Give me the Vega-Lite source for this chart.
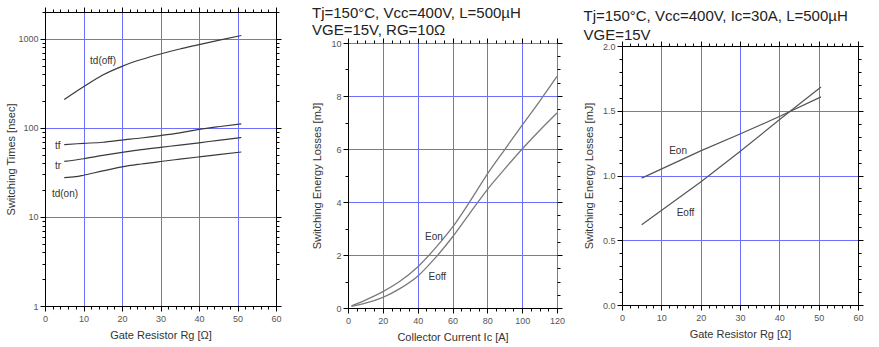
{
  "$schema": "https://vega.github.io/schema/vega-lite/v6.json",
  "background": "white",
  "padding": {"left": 5, "top": 5, "right": 5, "bottom": 5},
  "spacing": 29,
  "datasets": {
    "times": [
      {"Rg": 5, "t": 208, "s": "td(off)"}, {"Rg": 10, "t": 289, "s": "td(off)"}, {"Rg": 15, "t": 392, "s": "td(off)"}, {"Rg": 20, "t": 491, "s": "td(off)"}, {"Rg": 25, "t": 585, "s": "td(off)"}, {"Rg": 30, "t": 676, "s": "td(off)"}, {"Rg": 35, "t": 768, "s": "td(off)"}, {"Rg": 40, "t": 860, "s": "td(off)"}, {"Rg": 45, "t": 960, "s": "td(off)"}, {"Rg": 51, "t": 1090, "s": "td(off)"},
      {"Rg": 5, "t": 65, "s": "tf"}, {"Rg": 10, "t": 67, "s": "tf"}, {"Rg": 15, "t": 69, "s": "tf"}, {"Rg": 20, "t": 73, "s": "tf"}, {"Rg": 25, "t": 77, "s": "tf"}, {"Rg": 30, "t": 82, "s": "tf"}, {"Rg": 35, "t": 88, "s": "tf"}, {"Rg": 40, "t": 96, "s": "tf"}, {"Rg": 45, "t": 103, "s": "tf"}, {"Rg": 51, "t": 111, "s": "tf"},
      {"Rg": 5, "t": 42, "s": "tr"}, {"Rg": 10, "t": 45, "s": "tr"}, {"Rg": 15, "t": 49, "s": "tr"}, {"Rg": 20, "t": 53, "s": "tr"}, {"Rg": 25, "t": 57, "s": "tr"}, {"Rg": 30, "t": 60.5, "s": "tr"}, {"Rg": 35, "t": 64, "s": "tr"}, {"Rg": 40, "t": 68, "s": "tr"}, {"Rg": 45, "t": 72.5, "s": "tr"}, {"Rg": 51, "t": 78, "s": "tr"},
      {"Rg": 5, "t": 27.7, "s": "td(on)"}, {"Rg": 8, "t": 28.3, "s": "td(on)"}, {"Rg": 10, "t": 29.4, "s": "td(on)"}, {"Rg": 15, "t": 32.9, "s": "td(on)"}, {"Rg": 20, "t": 36.5, "s": "td(on)"}, {"Rg": 25, "t": 39.3, "s": "td(on)"}, {"Rg": 30, "t": 41.9, "s": "td(on)"}, {"Rg": 35, "t": 44.5, "s": "td(on)"}, {"Rg": 40, "t": 47.2, "s": "td(on)"}, {"Rg": 45, "t": 50, "s": "td(on)"}, {"Rg": 51, "t": 53.6, "s": "td(on)"}
    ],
    "timesLabels": [
      {"Rg": 11.7, "t": 559, "label": "td(off)"},
      {"Rg": 2.6, "t": 62.6, "label": "tf"},
      {"Rg": 2.6, "t": 37.4, "label": "tr"},
      {"Rg": 1.8, "t": 18, "label": "td(on)"}
    ],
    "energyIc": [
      {"Ic": 2, "E": 0.08, "s": "Eon"}, {"Ic": 10, "E": 0.3, "s": "Eon"}, {"Ic": 20, "E": 0.62, "s": "Eon"}, {"Ic": 30, "E": 1.02, "s": "Eon"}, {"Ic": 40, "E": 1.55, "s": "Eon"}, {"Ic": 50, "E": 2.25, "s": "Eon"}, {"Ic": 60, "E": 3.05, "s": "Eon"}, {"Ic": 70, "E": 4.02, "s": "Eon"}, {"Ic": 80, "E": 5.05, "s": "Eon"}, {"Ic": 90, "E": 5.98, "s": "Eon"}, {"Ic": 100, "E": 6.9, "s": "Eon"}, {"Ic": 110, "E": 7.8, "s": "Eon"}, {"Ic": 120, "E": 8.74, "s": "Eon"},
      {"Ic": 2, "E": 0.06, "s": "Eoff"}, {"Ic": 10, "E": 0.18, "s": "Eoff"}, {"Ic": 20, "E": 0.4, "s": "Eoff"}, {"Ic": 30, "E": 0.74, "s": "Eoff"}, {"Ic": 40, "E": 1.2, "s": "Eoff"}, {"Ic": 50, "E": 1.88, "s": "Eoff"}, {"Ic": 60, "E": 2.68, "s": "Eoff"}, {"Ic": 70, "E": 3.58, "s": "Eoff"}, {"Ic": 80, "E": 4.47, "s": "Eoff"}, {"Ic": 90, "E": 5.25, "s": "Eoff"}, {"Ic": 100, "E": 6.0, "s": "Eoff"}, {"Ic": 110, "E": 6.7, "s": "Eoff"}, {"Ic": 120, "E": 7.36, "s": "Eoff"}
    ],
    "energyIcLabels": [
      {"Ic": 44.2, "E": 2.69, "label": "Eon"},
      {"Ic": 46.2, "E": 1.17, "label": "Eoff"}
    ],
    "energyRg": [
      {"Rg": 5, "E": 0.98, "s": "Eon"}, {"Rg": 20, "E": 1.19, "s": "Eon"}, {"Rg": 30, "E": 1.32, "s": "Eon"}, {"Rg": 40, "E": 1.455, "s": "Eon"}, {"Rg": 50.6, "E": 1.607, "s": "Eon"},
      {"Rg": 5, "E": 0.62, "s": "Eoff"}, {"Rg": 20, "E": 0.95, "s": "Eoff"}, {"Rg": 30, "E": 1.185, "s": "Eoff"}, {"Rg": 40, "E": 1.43, "s": "Eoff"}, {"Rg": 50.6, "E": 1.684, "s": "Eoff"}
    ],
    "energyRgLabels": [
      {"Rg": 12, "E": 1.19, "label": "Eon"},
      {"Rg": 13.9, "E": 0.71, "label": "Eoff"}
    ]
  },
  "hconcat": [
    {
      "width": 231,
      "height": 263,
      "view": {"stroke": null},
      "resolve": {"axis": {"x": "independent", "y": "independent"}},
      "layer": [
        {
          "data": {"name": "times"},
          "mark": {"type": "line", "interpolate": "monotone", "color": "#3a3a3a", "strokeWidth": 1.2},
          "encoding": {
            "x": {"field": "Rg", "type": "quantitative", "scale": {"domain": [0, 60], "nice": false},
              "axis": {"orient": "bottom", "title": "Gate Resistor Rg [Ω]", "titlePadding": 6,
                "values": [0,2,4,6,8,10,12,14,16,18,20,22,24,26,28,30,32,34,36,38,40,42,44,46,48,50,52,54,56,58,60],
                "labelExpr": "datum.value % 10 == 0 ? datum.label : ''", "labelOverlap": false, "labelFlush": false,
                "tickSize": {"condition": {"test": "datum.value % 10 == 0", "value": 5}, "value": 3},
                "labelPadding": 3,
                "grid": false}},
            "y": {"field": "t", "type": "quantitative", "scale": {"type": "log", "domain": [1, 2000], "nice": false, "range": [263, -31]},
              "axis": {"orient": "left", "title": "Switching Times [nsec]", "titlePadding": 1,
                "values": [1,2,3,4,5,6,7,8,9,10,20,30,40,50,60,70,80,90,100,200,300,400,500,600,700,800,900,1000,2000],
                "labelExpr": "indexof([1,10,100,1000], datum.value) >= 0 ? datum.label : ''", "format": "d", "labelOverlap": false, "labelFlush": false,
                "tickSize": {"condition": {"test": "indexof([1,10,100,1000], datum.value) >= 0", "value": 5}, "value": 3},
                "labelPadding": 2,
                "grid": true,
                "gridOpacity": {"condition": {"test": "indexof([1,10,100,1000], datum.value) >= 0", "value": 1}, "value": 0}}},
            "detail": {"field": "s"}
          }
        },
        {
          "data": {"name": "timesLabels"},
          "mark": {"type": "text", "font": "Liberation Sans", "fontSize": 10, "color": "#333", "align": "left", "baseline": "middle"},
          "encoding": {
            "x": {"field": "Rg", "type": "quantitative", "axis": null},
            "y": {"field": "t", "type": "quantitative", "axis": null},
            "text": {"field": "label"}
          }
        },
        {
          "data": {"name": "times"},
          "mark": {"type": "line", "strokeOpacity": 0},
          "encoding": {
            "x": {"field": "Rg", "type": "quantitative",
              "axis": {"orient": "top", "offset": 31, "title": null, "labels": false, "domain": true,
                "values": [0,2,4,6,8,10,12,14,16,18,20,22,24,26,28,30,32,34,36,38,40,42,44,46,48,50,52,54,56,58,60],
                "tickSize": {"condition": {"test": "datum.value % 10 == 0", "value": 5}, "value": 3},
                "grid": true,
                "gridOpacity": {"condition": {"test": "datum.value % 10 == 0", "value": 1}, "value": 0}}},
            "y": {"field": "t", "type": "quantitative",
              "axis": {"orient": "right", "title": null, "labels": false, "domain": true, "grid": false,
                "values": [1,2,3,4,5,6,7,8,9,10,20,30,40,50,60,70,80,90,100,200,300,400,500,600,700,800,900,1000,2000],
                "tickSize": {"condition": {"test": "indexof([1,10,100,1000], datum.value) >= 0", "value": 5}, "value": 3}}},
            "detail": {"field": "s"}
          }
        }
      ]
    },
    {
      "spacing": 17,
      "hconcat": [
        {
          "width": 209,
          "height": 265,
          "title": {"text": ["Tj=150°C, Vcc=400V, L=500µH", "VGE=15V, RG=10Ω"], "anchor": "start", "frame": "bounds", "font": "Liberation Sans", "fontSize": 15, "fontWeight": "normal", "color": "#222", "lineHeight": 17, "offset": 0},
          "resolve": {"axis": {"x": "independent", "y": "independent"}},
          "layer": [
            {
              "data": {"name": "energyIc"},
              "mark": {"type": "line", "interpolate": "monotone", "color": "#7a7a7a", "strokeWidth": 1.3},
              "encoding": {
                "x": {"field": "Ic", "type": "quantitative", "scale": {"domain": [0, 120], "nice": false},
                  "axis": {"orient": "bottom", "title": "Collector Current Ic [A]", "titlePadding": 6,
                    "values": [0,5,10,15,20,25,30,35,40,45,50,55,60,65,70,75,80,85,90,95,100,105,110,115,120],
                    "labelExpr": "datum.value % 20 == 0 ? datum.label : ''", "labelOverlap": false, "labelFlush": false,
                    "tickSize": {"condition": {"test": "datum.value % 20 == 0", "value": 5}, "value": 3},
                    "labelPadding": 3,
                    "grid": true,
                    "gridOpacity": {"condition": {"test": "datum.value % 20 == 0", "value": 1}, "value": 0}}},
                "y": {"field": "E", "type": "quantitative", "scale": {"domain": [0, 10], "nice": false},
                  "axis": {"orient": "left", "title": "Switching Energy Losses [mJ]", "titlePadding": 8,
                    "values": [0,0.5,1,1.5,2,2.5,3,3.5,4,4.5,5,5.5,6,6.5,7,7.5,8,8.5,9,9.5,10],
                    "labelExpr": "datum.value % 2 == 0 ? datum.label : ''", "format": "d", "labelOverlap": false, "labelFlush": false,
                    "tickSize": {"condition": {"test": "datum.value % 2 == 0", "value": 5}, "value": 3},
                    "labelPadding": 2,
                    "grid": true,
                    "gridOpacity": {"condition": {"test": "datum.value % 2 == 0", "value": 1}, "value": 0}}},
                "detail": {"field": "s"}
              }
            },
            {
              "data": {"name": "energyIcLabels"},
              "mark": {"type": "text", "font": "Liberation Sans", "fontSize": 10, "color": "#333", "align": "left", "baseline": "middle"},
              "encoding": {
                "x": {"field": "Ic", "type": "quantitative", "axis": null},
                "y": {"field": "E", "type": "quantitative", "axis": null},
                "text": {"field": "label"}
              }
            },
            {
              "data": {"name": "energyIc"},
              "mark": {"type": "line", "strokeOpacity": 0},
              "encoding": {
                "x": {"field": "Ic", "type": "quantitative",
                  "axis": {"orient": "top", "title": null, "labels": false, "domain": false, "grid": false,
                    "values": [0,5,10,15,20,25,30,35,40,45,50,55,60,65,70,75,80,85,90,95,100,105,110,115,120],
                    "tickSize": {"condition": {"test": "datum.value % 20 == 0", "value": 5}, "value": 3}}},
                "y": {"field": "E", "type": "quantitative",
                  "axis": {"orient": "right", "title": null, "labels": false, "domain": false, "grid": false,
                    "values": [0,0.5,1,1.5,2,2.5,3,3.5,4,4.5,5,5.5,6,6.5,7,7.5,8,8.5,9,9.5,10],
                    "tickSize": {"condition": {"test": "datum.value % 2 == 0", "value": 5}, "value": 3}}},
                "detail": {"field": "s"}
              }
            }
          ]
        },
        {
          "width": 236,
          "height": 262,
          "view": {"stroke": null},
          "title": {"text": ["Tj=150°C, Vcc=400V, Ic=30A, L=500µH", "VGE=15V"], "anchor": "start", "frame": "bounds", "font": "Liberation Sans", "fontSize": 15, "fontWeight": "normal", "color": "#222", "lineHeight": 19, "offset": -2},
          "resolve": {"axis": {"x": "independent", "y": "independent"}},
          "layer": [
            {
              "data": {"name": "energyRg"},
              "mark": {"type": "line", "color": "#555", "strokeWidth": 1.2},
              "encoding": {
                "x": {"field": "Rg", "type": "quantitative", "scale": {"domain": [0, 60], "nice": false},
                  "axis": {"orient": "bottom", "title": "Gate Resistor Rg [Ω]", "titlePadding": 6,
                    "values": [0,2,4,6,8,10,12,14,16,18,20,22,24,26,28,30,32,34,36,38,40,42,44,46,48,50,52,54,56,58,60],
                    "labelExpr": "datum.value % 10 == 0 ? datum.label : ''", "labelOverlap": false, "labelFlush": false,
                    "tickSize": {"condition": {"test": "datum.value % 10 == 0", "value": 5}, "value": 3},
                    "labelPadding": 3,
                    "grid": false}},
                "y": {"field": "E", "type": "quantitative", "scale": {"domain": [0, 2], "nice": false, "range": [262, 3]},
                  "axis": {"orient": "left", "title": "Switching Energy Losses [mJ]", "titlePadding": 8,
                    "values": [0,0.1,0.2,0.3,0.4,0.5,0.6,0.7,0.8,0.9,1,1.1,1.2,1.3,1.4,1.5,1.6,1.7,1.8,1.9,2],
                    "labelExpr": "indexof([0,0.5,1,1.5,2], datum.value) >= 0 ? datum.label : ''", "format": ".1f", "labelOverlap": false, "labelFlush": false,
                    "tickSize": {"condition": {"test": "indexof([0,0.5,1,1.5,2], datum.value) >= 0", "value": 5}, "value": 3},
                    "labelPadding": 2,
                    "grid": true,
                    "gridOpacity": {"condition": {"test": "indexof([0,0.5,1,1.5,2], datum.value) >= 0", "value": 1}, "value": 0}}},
                "detail": {"field": "s"}
              }
            },
            {
              "data": {"name": "energyRgLabels"},
              "mark": {"type": "text", "font": "Liberation Sans", "fontSize": 10, "color": "#333", "align": "left", "baseline": "middle"},
              "encoding": {
                "x": {"field": "Rg", "type": "quantitative", "axis": null},
                "y": {"field": "E", "type": "quantitative", "axis": null},
                "text": {"field": "label"}
              }
            },
            {
              "data": {"name": "energyRg"},
              "mark": {"type": "line", "strokeOpacity": 0},
              "encoding": {
                "x": {"field": "Rg", "type": "quantitative",
                  "axis": {"orient": "top", "offset": -3, "title": null, "labels": false, "domain": true,
                    "values": [0,2,4,6,8,10,12,14,16,18,20,22,24,26,28,30,32,34,36,38,40,42,44,46,48,50,52,54,56,58,60],
                    "tickSize": {"condition": {"test": "datum.value % 10 == 0", "value": 5}, "value": 3},
                    "grid": true,
                    "gridOpacity": {"condition": {"test": "datum.value % 10 == 0", "value": 1}, "value": 0}}},
                "y": {"field": "E", "type": "quantitative",
                  "axis": {"orient": "right", "title": null, "labels": false, "domain": true, "grid": false,
                    "values": [0,0.1,0.2,0.3,0.4,0.5,0.6,0.7,0.8,0.9,1,1.1,1.2,1.3,1.4,1.5,1.6,1.7,1.8,1.9,2],
                    "tickSize": {"condition": {"test": "indexof([0,0.5,1,1.5,2], datum.value) >= 0", "value": 5}, "value": 3}}},
                "detail": {"field": "s"}
              }
            }
          ]
        }
      ]
    }
  ],
  "config": {
    "view": {"stroke": "black", "strokeWidth": 1},
    "axis": {
      "labelFont": "Liberation Sans", "labelFontSize": 9, "labelColor": "#555",
      "titleFont": "Liberation Sans", "titleFontSize": 11, "titleFontWeight": "normal", "titleColor": "#333",
      "domainColor": "black", "tickColor": "black", "tickWidth": 1,
      "gridColor": "#6f6fff", "gridWidth": 1
    }
  }
}
